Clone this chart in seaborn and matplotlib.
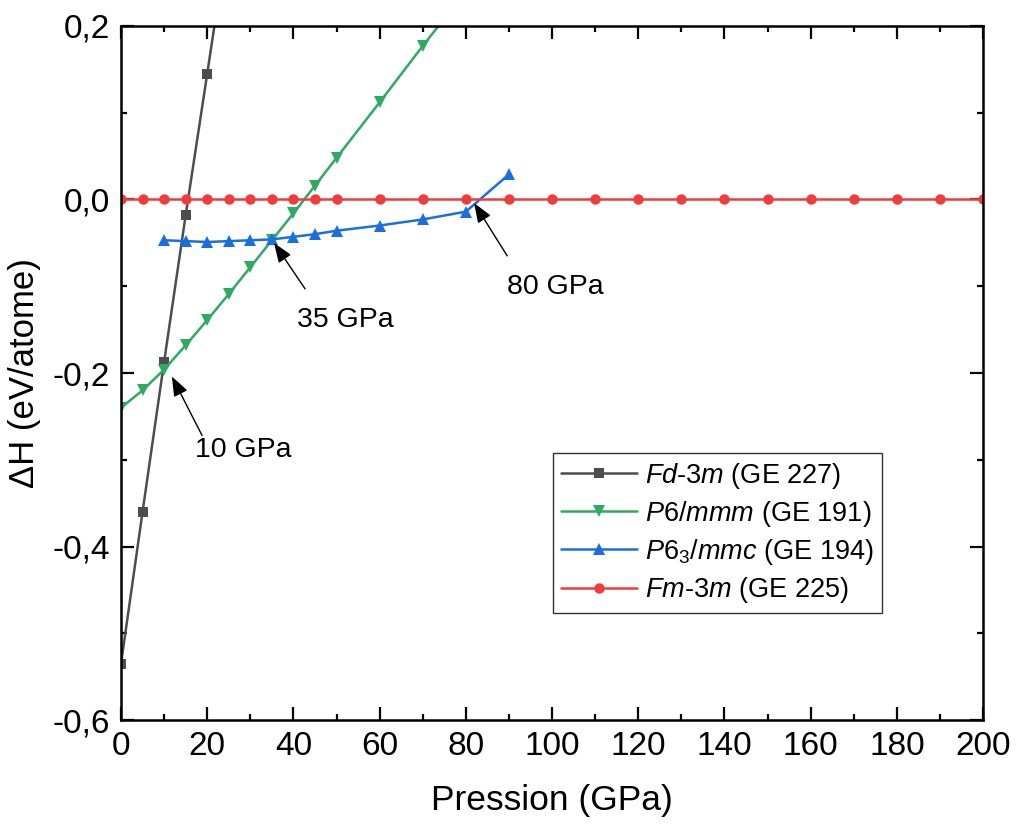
import matplotlib
matplotlib.use("Agg")
import matplotlib.pyplot as plt
import seaborn as sns
import pandas as pd
from matplotlib.ticker import MultipleLocator, FuncFormatter

# ---- data ----
p_fd = [0, 5, 10, 15, 20, 25]
h_fd = [-0.535, -0.360, -0.187, -0.018, 0.145, 0.31]

p_p6 = [0, 5, 10, 15, 20, 25, 30, 35, 40, 45, 50, 60, 70, 80]
h_p6 = [-0.240, -0.220, -0.196, -0.168, -0.139, -0.109, -0.078, -0.047,
        -0.016, 0.016, 0.048, 0.112, 0.177, 0.240]

p_p63 = [10, 15, 20, 25, 30, 35, 40, 45, 50, 60, 70, 80, 90]
h_p63 = [-0.047, -0.048, -0.049, -0.048, -0.047, -0.046, -0.043, -0.040,
         -0.036, -0.030, -0.023, -0.014, 0.029]

p_fm = [0, 5, 10, 15, 20, 25, 30, 35, 40, 45, 50, 60, 70, 80, 90, 100, 110,
        120, 130, 140, 150, 160, 170, 180, 190, 200]
h_fm = [0.0] * len(p_fm)

labels = [r"$\mathit{Fd}$-$\mathit{3m}$ (GE 227)",
          r"$\mathit{P6/mmm}$ (GE 191)",
          r"$\mathit{P6_3/mmc}$ (GE 194)",
          r"$\mathit{Fm}$-$\mathit{3m}$ (GE 225)"]

annot_text = ["10 GPa", "35 GPa", "80 GPa"]
annot_tip = [(11.8, -0.204), (35.5, -0.050), (81.9, -0.004)]
annot_tail = [(18.8, -0.272), (42.7, -0.103), (89.6, -0.065)]
annot_pos = [(28.3, -0.289), (52.0, -0.139), (100.7, -0.101)]

# ---- style ----
sns.set_theme(style="ticks", rc={"text.color": "black", "axes.labelcolor": "black",
                                 "xtick.color": "black", "ytick.color": "black",
                                 "axes.edgecolor": "black"})
plt.rcParams["font.family"] = ["Liberation Sans", "DejaVu Sans"]
plt.rcParams["mathtext.fontset"] = "custom"
plt.rcParams["mathtext.rm"] = "Liberation Sans"
plt.rcParams["mathtext.it"] = "Liberation Sans:italic"

fig = plt.figure(figsize=(10.23, 8.30), dpi=100)
ax = fig.add_axes([0.1183, 0.1325, 0.8427, 0.8362])

series = [
    (p_fd, h_fd, "#4d4d4d", "s", 6.5),
    (p_p6, h_p6, "#2eaa62", "v", 8.0),
    (p_p63, h_p63, "#1a6fdf", "^", 8.0),
    (p_fm, h_fm, "#f03c3c", "o", 7.5),
]
for (x, y, c, m, ms), lab in zip(series, labels):
    df = pd.DataFrame({"P": x, "H": y})
    sns.lineplot(data=df, x="P", y="H", ax=ax, color=c, marker=m,
                 markersize=ms, markeredgewidth=0, linewidth=1.8,
                 label=lab, clip_on=True)

ax.set_xlim(0, 200)
ax.set_ylim(-0.6, 0.2)
ax.xaxis.set_major_locator(MultipleLocator(20))
ax.xaxis.set_minor_locator(MultipleLocator(10))
ax.yaxis.set_major_locator(MultipleLocator(0.2))
ax.yaxis.set_minor_locator(MultipleLocator(0.1))
ax.yaxis.set_major_formatter(FuncFormatter(lambda v, p: f"{v:.1f}".replace(".", ",").replace("-0,0", "0,0")))

ax.tick_params(which="both", direction="in", top=True, right=True,
               width=1.6, colors="black", labelsize=24, pad=8)
ax.tick_params(which="major", length=9.5)
ax.tick_params(which="minor", length=4.5)
for s in ax.spines.values():
    s.set_linewidth(1.8)
    s.set_color("black")

ax.set_xlabel("Pression (GPa)", fontsize=25.5, labelpad=16)
ax.set_ylabel("ΔH (eV/atome)", fontsize=25, labelpad=8)

for t, tip, tail, pos in zip(annot_text, annot_tip, annot_tail, annot_pos):
    ax.annotate("", xy=tip, xytext=tail,
                arrowprops=dict(arrowstyle="-|>,head_length=1.0,head_width=0.38",
                                color="black", lw=1.0, shrinkA=0, shrinkB=0))
    ax.text(pos[0], pos[1], t, fontsize=20.5, ha="center", va="center")

leg = ax.legend(loc="lower left", bbox_to_anchor=(0.501, 0.154),
                borderaxespad=0, fontsize=19.5, frameon=True, fancybox=False,
                handlelength=2.8, labelspacing=0.3, borderpad=0.3,
                handletextpad=0.3)
leg.get_frame().set_edgecolor("black")
leg.get_frame().set_linewidth(1.0)

fig.savefig("out.png", dpi=100)
